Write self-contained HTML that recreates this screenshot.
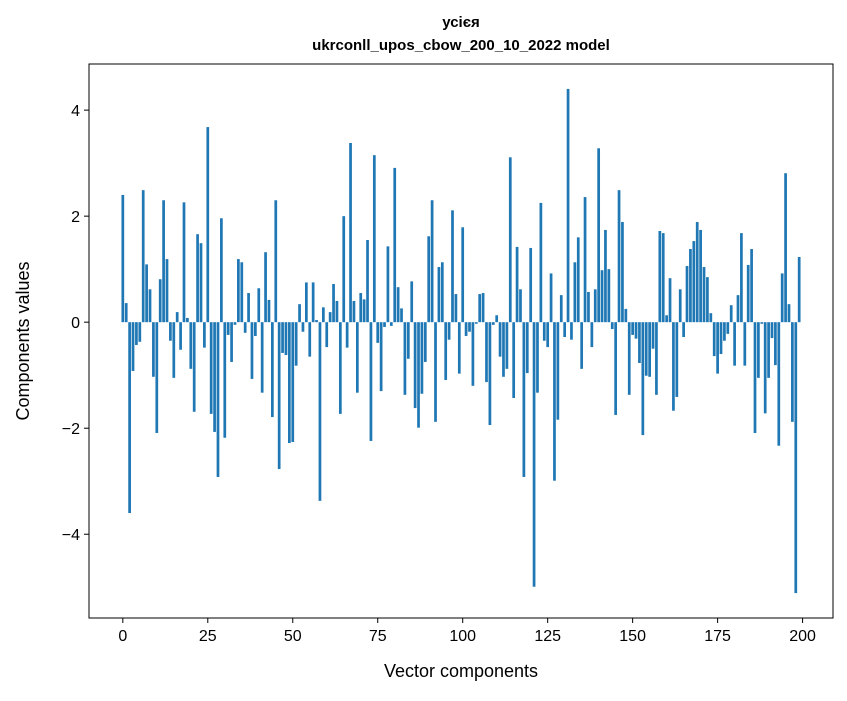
<!DOCTYPE html>
<html><head><meta charset="utf-8"><style>
body{margin:0;background:#fff;}
svg text{font-family:"Liberation Sans","DejaVu Sans",sans-serif;fill:#000;}
</style></head><body>
<svg id="chart" width="847" height="696" viewBox="0 0 847 696" xmlns="http://www.w3.org/2000/svg">
<rect width="847" height="696" fill="#fff"/>
<text x="461" y="27" text-anchor="middle" font-size="15" font-weight="bold">усієя</text>
<text x="461" y="50" text-anchor="middle" font-size="15" font-weight="bold">ukrconll_upos_cbow_200_10_2022 model</text>
<g id="bars"></g>
<g id="xticks"></g>
<g id="yticks"></g>
<rect x="89" y="64" width="744" height="554" fill="none" stroke="#000" stroke-width="1"/>
<text x="461" y="677" text-anchor="middle" font-size="18">Vector components</text>
<text transform="translate(29,341) rotate(-90)" text-anchor="middle" font-size="18">Components values</text>
</svg>
<script>
const values = [2.40,0.36,-3.60,-0.92,-0.43,-0.37,2.49,1.09,0.62,-1.03,-2.09,0.81,2.30,1.19,-0.35,-1.05,0.19,-0.52,2.26,0.08,
-0.88,-1.69,1.66,1.49,-0.48,3.68,-1.73,-2.07,-2.92,1.96,-2.18,-0.24,-0.75,-0.05,1.19,1.13,-0.20,0.55,-1.07,-0.26,
0.64,-1.33,1.32,0.42,-1.79,2.30,-2.77,-0.58,-0.62,-2.28,-2.26,-0.82,0.34,-0.18,0.75,-0.65,0.75,0.04,-3.37,0.28,
-0.47,0.19,0.72,0.40,-1.73,2.00,-0.48,3.38,0.40,-1.33,0.55,0.43,1.55,-2.24,3.15,-0.39,-1.30,-0.09,1.43,-0.07,
2.91,0.66,0.26,-1.37,-0.69,0.77,-1.62,-1.99,-1.35,-0.75,1.62,2.30,-1.88,1.04,1.13,-1.09,-0.33,2.11,0.53,-0.97,
1.79,-0.26,-0.18,-1.20,-0.03,0.53,0.55,-1.13,-1.94,-0.05,0.13,-0.65,-1.03,-0.88,3.11,-1.43,1.42,0.62,-2.92,-0.96,
1.40,-4.99,-1.33,2.25,-0.35,-0.47,0.92,-2.99,-1.84,0.51,-0.28,4.40,-0.33,1.13,1.60,-0.88,2.36,0.57,-0.47,0.62,
3.28,0.98,1.74,1.00,-0.13,-1.75,2.49,1.89,0.25,-1.37,-0.24,-0.31,-0.77,-2.13,-1.01,-1.03,-0.50,-1.37,1.72,1.68,
0.13,0.83,-1.67,-1.41,0.62,-0.28,1.06,1.38,1.53,1.89,1.74,1.04,0.85,0.17,-0.64,-0.97,-0.60,-0.35,-0.22,0.32,
-0.82,0.51,1.68,-0.82,1.08,1.38,-2.09,-1.05,-0.03,-1.72,-1.05,-0.30,-0.81,-2.33,0.92,2.81,0.34,-1.88,-5.11,1.23];
const xTicks = [0,25,50,75,100,125,150,175,200];
const yTicks = [-4,-2,0,2,4];
const yTickLabels = ["\u22124","\u22122","0","2","4"];

const NS="http://www.w3.org/2000/svg";
const X0=89, X1=833, Y0=64, Y1=618;
const xmin=-9.95, xmax=208.95, ymin=-5.58, ymax=4.87;
function xs(v){return X0+(v-xmin)/(xmax-xmin)*(X1-X0);}
function ys(v){return Y1-(v-ymin)/(ymax-ymin)*(Y1-Y0);}
const bw = xs(0.8)-xs(0);
const gb=document.getElementById('bars');
values.forEach((v,i)=>{
  const r=document.createElementNS(NS,'rect');
  const y=Math.min(ys(v),ys(0)), h=Math.abs(ys(v)-ys(0));
  r.setAttribute('x',xs(i-0.4)); r.setAttribute('y',y);
  r.setAttribute('width',bw); r.setAttribute('height',h);
  r.setAttribute('fill','#1f77b4');
  
  
  gb.appendChild(r);
});
const gx=document.getElementById('xticks');
xTicks.forEach(t=>{
  const l=document.createElementNS(NS,'line');
  l.setAttribute('x1',xs(t));l.setAttribute('x2',xs(t));l.setAttribute('y1',Y1);l.setAttribute('y2',Y1+5);
  l.setAttribute('stroke','#000');
  
  
  gx.appendChild(l);
  const tx=document.createElementNS(NS,'text');
  tx.setAttribute('x',xs(t));tx.setAttribute('y',Y1+23);tx.setAttribute('text-anchor','middle');tx.setAttribute('font-size','16');
  tx.textContent=t;
  
  
  gx.appendChild(tx);
});
const gy=document.getElementById('yticks');
yTicks.forEach((t,i)=>{
  const l=document.createElementNS(NS,'line');
  l.setAttribute('x1',X0-5);l.setAttribute('x2',X0);l.setAttribute('y1',ys(t));l.setAttribute('y2',ys(t));
  l.setAttribute('stroke','#000');
  
  
  gy.appendChild(l);
  const tx=document.createElementNS(NS,'text');
  tx.setAttribute('x',X0-9);tx.setAttribute('y',ys(t)+6);tx.setAttribute('text-anchor','end');tx.setAttribute('font-size','16');
  tx.textContent=yTickLabels[i];
  
  
  gy.appendChild(tx);
});
</script>
</body></html>
